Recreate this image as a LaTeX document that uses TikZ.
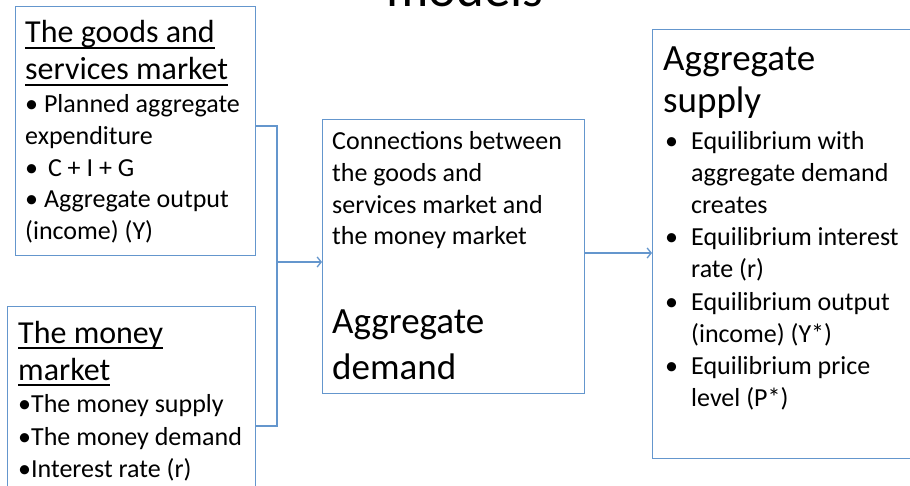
\documentclass[tikz,border=0pt]{standalone}
\usepackage{fontspec}
\setmainfont{Carlito}
\usetikzlibrary{arrows.meta,calc}
\definecolor{boxblue}{RGB}{100,150,205}
\begin{document}
\begin{tikzpicture}[x=1pt,y=-1pt,
  box/.style={draw=boxblue,line width=1.1pt,inner sep=0pt,anchor=north west},
  conn/.style={draw=boxblue,line width=1.1pt},
  tip/.style={-{Straight Barb[length=4pt,width=10pt,line width=1.3pt]}},
  txt/.style={anchor=base west,inner sep=0pt,font=\fontsize{26}{31}\selectfont},
  head/.style={anchor=base west,inner sep=0pt,font=\fontsize{32}{37}\selectfont},
  big/.style={anchor=base west,inner sep=0pt,font=\fontsize{37}{44}\selectfont},
  ttl/.style={anchor=base west,inner sep=0pt,font=\fontsize{53}{60}\selectfont},
  uline/.style={line width=2.2pt,black}]
\useasboundingbox (0,0) rectangle (910,486);
\clip (0,0) rectangle (910,486);

% title (cut off)
\node[ttl] (title) at (386,7) {models};

% boxes
\node[box,minimum width=240pt,minimum height=249pt] (b1) at (15,6) {};
\node[box,minimum width=248pt,minimum height=250pt] (b2) at (7,306) {};
\node[box,minimum width=262pt,minimum height=274pt] (mid) at (322,119) {};
\node[box,minimum width=300pt,minimum height=429pt] (rb) at (652,29) {};

% box 1 text
\node[head] (h1a) at (25,43) {The goods and};
\node[head] (h1b) at (25,80) {services market};
\draw[uline] ([yshift=-5pt]h1a.base west) -- ([yshift=-5pt]h1a.base east);
\draw[uline] ([yshift=-5pt]h1b.base west) -- ([yshift=-5pt]h1b.base east);
\node[txt] (g1) at (25,113) {• Planned aggregate};
\node[txt] (g2) at (25,145) {expenditure};
\node[txt] (g3) at (25,177) {•\hspace{4pt} C + I + G};
\node[txt] (g4) at (25,208) {• Aggregate output};
\node[txt] (g5) at (25,240) {(income) (Y)};

% box 2 text
\node[head] (h2a) at (18,343) {The money};
\node[head] (h2b) at (18,380) {market};
\draw[uline] ([yshift=-5pt]h2a.base west) -- ([yshift=-5pt]h2a.base east);
\draw[uline] ([yshift=-5pt]h2b.base west) -- ([yshift=-5pt]h2b.base east);
\node[txt] (m1) at (18,412) {•The money supply};
\node[txt] (m2) at (18,445) {•The money demand};
\node[txt] (m3) at (18,477) {•Interest rate (r)};

% middle text
\node[txt] (c1) at (332,150) {Connections between};
\node[txt] (c2) at (332,181.7) {the goods and};
\node[txt] (c3) at (332,213.4) {services market and};
\node[txt] (c4) at (332,245) {the money market};
\node[big] (c5) at (332,334) {Aggregate};
\node[big] (c6) at (332,379) {demand};

% right text
\node[big] (r1) at (663,71) {Aggregate};
\node[big] (r2) at (663,113) {supply};
\node[txt] (rb1) at (665,150) {•};
\node[txt] (s1) at (691,150) {Equilibrium with};
\node[txt] (s2) at (691,182) {aggregate demand};
\node[txt] (s3) at (691,214) {creates};
\node[txt] (rb2) at (665,246) {•};
\node[txt] (s4) at (691,246) {Equilibrium interest};
\node[txt] (s5) at (691,278) {rate (r)};
\node[txt] (rb3) at (665,310) {•};
\node[txt] (s6) at (691,310) {Equilibrium output};
\node[txt] (s7) at (691,342) {(income) (Y*)};
\node[txt] (rb4) at (665,374) {•};
\node[txt] (s8) at (691,374) {Equilibrium price};
\node[txt] (s9) at (691,406) {level (P*)};

% connectors
\coordinate (jt) at (277,126);
\coordinate (jb) at (277,426);
\coordinate (jm) at (277,262);
\coordinate (a2) at (584,253);
\draw[conn] (b1.east |- jt) -- (jt) -- (jb) -- (b2.east |- jb);
\draw[conn,tip] (jm) -- (mid.west |- jm);
\draw[conn,tip] (mid.east |- a2) -- (rb.west |- a2);
\end{tikzpicture}
\end{document}
